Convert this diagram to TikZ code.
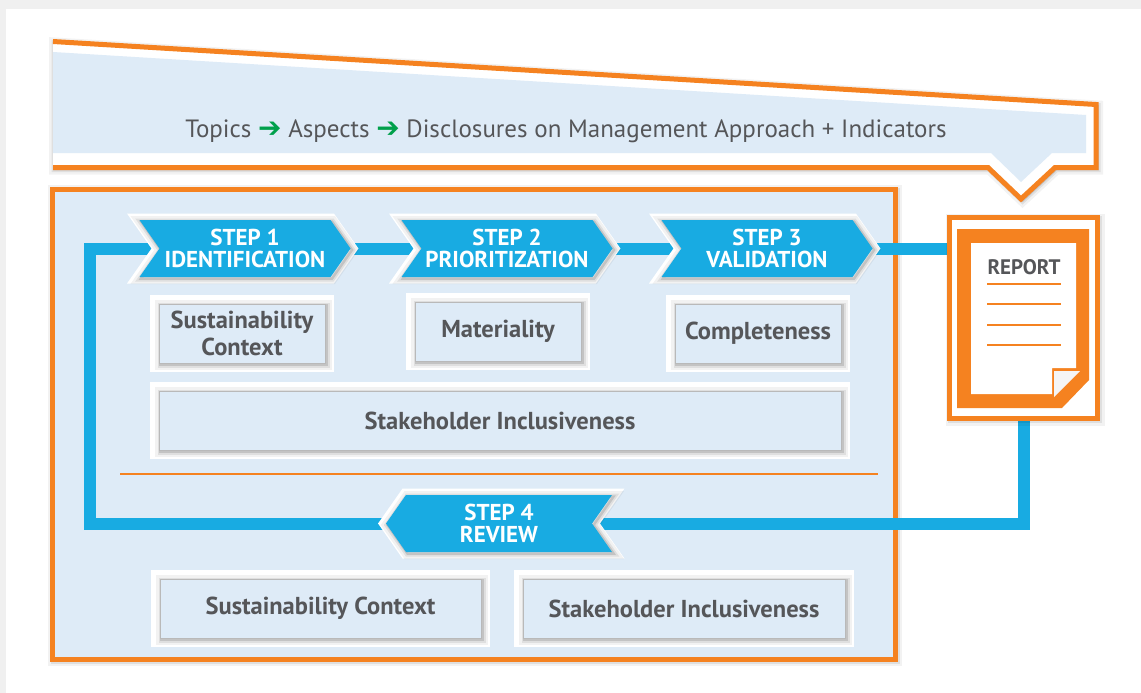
\documentclass[tikz,border=0pt]{standalone}
\usepackage{fontspec}
\setmainfont{PT Sans}
\newfontfamily\arrowfont{DejaVu Sans}
\usetikzlibrary{shapes.symbols}
\definecolor{griorange}{RGB}{245,130,32}
\definecolor{stepblue}{RGB}{24,171,226}
\definecolor{paleblue}{RGB}{222,235,247}
\definecolor{txtgray}{RGB}{85,86,89}
\definecolor{arrowgreen}{RGB}{0,160,75}
\definecolor{bggray}{RGB}{240,240,240}
\pgfdeclarelayer{back}
\pgfdeclarelayer{mid}
\pgfsetlayers{back,mid,main}
\tikzset{
  softshadow/.style={
    preaction={draw=black, draw opacity=0.05, line width=11pt, transform canvas={shift={(1.5pt,-1.5pt)}}},
    preaction={draw=black, draw opacity=0.08, line width=6pt, transform canvas={shift={(1.5pt,-1.5pt)}}},
    preaction={draw=black, draw opacity=0.12, line width=2.5pt, transform canvas={shift={(1.5pt,-1.5pt)}}}},
  stepbase/.style={signal, signal pointer angle=110, minimum height=57pt, inner sep=0pt,
    fill=stepblue, text=white, align=center, font=\bfseries\fontsize{23}{22}\selectfont,
    preaction={draw=white, line width=13pt}, softshadow},
  stepbox/.style={stepbase, signal to=east, signal from=west, minimum width=211pt},
  backstep/.style={stepbase, signal to=west, signal from=east, minimum width=226pt},
  factbox/.style={rectangle, minimum height=59pt, inner sep=0pt, fill=paleblue, draw=gray!55, line width=1pt,
    text=txtgray, align=center, font=\bfseries\fontsize{24.5}{27}\selectfont,
    preaction={draw=white, line width=18pt}, softshadow},
  frame/.style={draw=griorange, line width=5pt},
  flow/.style={draw=stepblue, line width=12pt}
}
\newcommand{\greenarrow}{\textcolor{arrowgreen}{\arrowfont\fontsize{28}{28}\selectfont ➔}}
\begin{document}
\begin{tikzpicture}[x=1pt,y=-1pt]
\useasboundingbox (0,0) rectangle (1141,693);

\begin{pgfonlayer}{back}
\fill[bggray] (0,0) rectangle (1141,693);
\fill[white] (6,9) rectangle (1141,693);
\fill[white, softshadow] (53,41.5) -- (1096,104.5) -- (1096,167.5) -- (1055,167.5) -- (1021,199) -- (988,167.5) -- (53,167.5) -- cycle;
\fill[paleblue] (53,52) -- (1086,115) -- (1086,153) -- (1052,153) -- (1021,182) -- (991,153) -- (53,153) -- cycle;
\draw[frame] (53,41.5) -- (1096,104.5) -- (1096,167.5) -- (1055,167.5) -- (1021,199) -- (988,167.5) -- (53,167.5);
\draw[frame, fill=paleblue, softshadow] (52,189) rectangle (895,659);
\end{pgfonlayer}

\node[text=txtgray, font=\fontsize{25}{28}\selectfont, anchor=base] (topics) at (566,137)
  {Topics \greenarrow\ Aspects \greenarrow\ Disclosures on Management Approach + Indicators};

\node[stepbox] (step1) at (245,248.5) {STEP 1\\IDENTIFICATION};
\node[stepbox] (step2) at (507,248.5) {STEP 2\\PRIORITIZATION};
\node[stepbox] (step3) at (767,248.5) {STEP 3\\VALIDATION};
\node[backstep] (step4) at (499,523.5) {STEP 4\\REVIEW};

\node[factbox, minimum width=166pt] (context1) at (242,333.5) {Sustainability\\Context};
\node[factbox, minimum width=166pt] (materiality) at (498,331.5) {Materiality};
\node[factbox, minimum width=166pt] (completeness) at (758,333.5) {Completeness};
\node[factbox, minimum width=682pt] (stake1) at (500,420.5) {Stakeholder Inclusiveness};
\node[factbox, minimum width=321pt] (context2) at (320.5,608.5) {Sustainability Context};
\node[factbox, minimum width=322pt] (stake2) at (684,608.5) {Stakeholder Inclusiveness};

\draw[griorange, line width=2pt] (120,474) -- (878,474);

\node[frame, fill=white, minimum width=148pt, minimum height=201pt, softshadow] (report) at (1023.5,318) {};
\fill[griorange] (957,229) -- (1089,229) -- (1089,380) -- (1062,408) -- (957,408) -- cycle;
\fill[white] (971,243) -- (1076,243) -- (1076,368) -- (1052,368) -- (1052,394) -- (971,394) -- cycle;
\fill[gray!8] (1054,371) -- (1080,371) -- (1054,397) -- cycle;
\node[text=txtgray, font=\bfseries\fontsize{21}{22}\selectfont] (reptitle) at (1024,267) {REPORT};
\foreach \y in {284,304,325,345}
  \draw[griorange, line width=2.5pt] (987,\y) -- (1061,\y);

\coordinate (looptop) at (90,248.5);
\begin{pgfonlayer}{mid}
\draw[flow] (step1.east) -- (step2.west);
\draw[flow] (step2.east) -- (step3.west);
\draw[flow] (step3.east) -- (step3.east -| report.west);
\draw[flow] (report.south) |- (step4.east);
\draw[flow] (step4.west) -| (looptop) -- (step1.west);
\end{pgfonlayer}

\end{tikzpicture}
\end{document}
